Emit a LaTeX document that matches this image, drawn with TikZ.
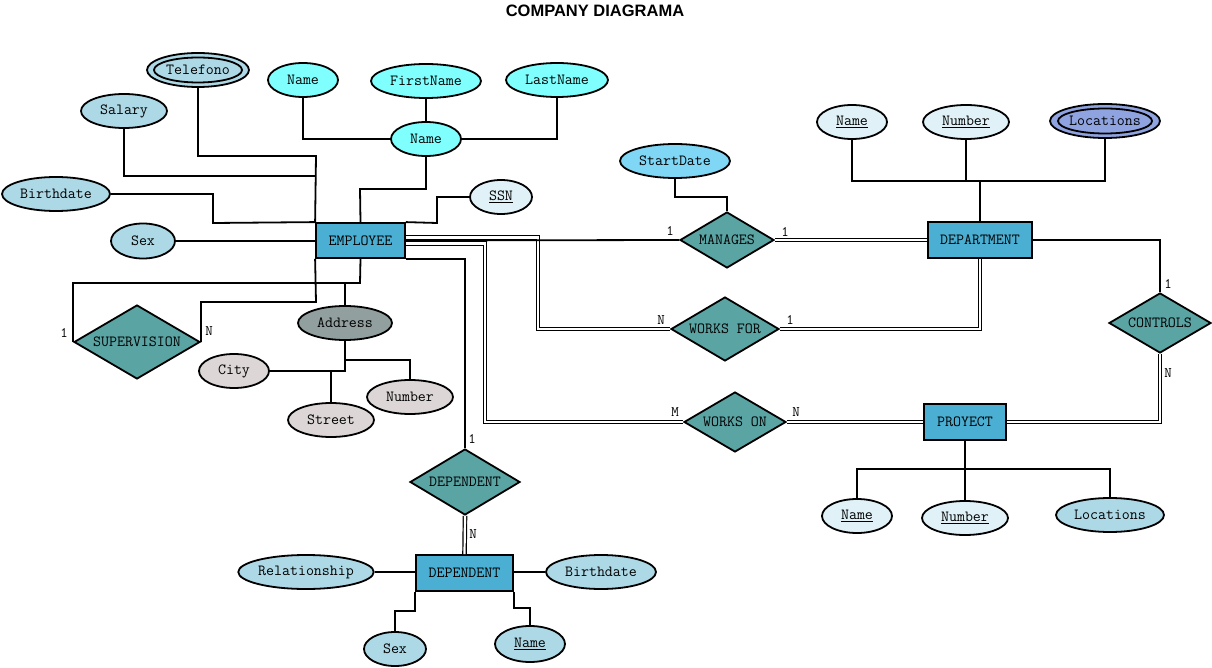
\documentclass[tikz,border=0pt]{standalone}
\usepackage{fontspec}
\setsansfont{Liberation Sans}
\usetikzlibrary{shapes.geometric}
\definecolor{attrc}{HTML}{ADD8E6}
\definecolor{cyanc}{HTML}{80FFFF}
\definecolor{keyc}{HTML}{E0F2F7}
\definecolor{entc}{HTML}{4BAFD3}
\definecolor{relc}{HTML}{5BA4A4}
\definecolor{addrc}{HTML}{919F9F}
\definecolor{subc}{HTML}{DCD6D6}
\definecolor{sdc}{HTML}{7FD6F5}
\definecolor{locc}{HTML}{8FA3E0}
\begin{document}
\begin{tikzpicture}[x=1pt,y=-1pt,line width=1.8pt,
  txt/.style={font=\ttfamily\fontsize{15.5}{17}\selectfont},
  ell/.style={ellipse,draw,inner sep=0pt,txt},
  ent/.style={rectangle,draw,fill=entc,inner sep=0pt,txt},
  rel/.style={diamond,draw,fill=relc,inner sep=0pt,aspect=1.7,txt},
  lbl/.style={font=\ttfamily\fontsize{14.5}{16}\selectfont,inner sep=0pt},
  dbl/.style={double,double distance=2.2pt,line width=1.2pt}]
\useasboundingbox (0,0) rectangle (1212,668);
\node[font=\sffamily\bfseries\fontsize{16.5}{18}\selectfont] (title) at (595,11) {COMPANY DIAGRAMA};

% EMPLOYEE attributes
\node[ell,fill=attrc,minimum width=102pt,minimum height=34pt] (tel) at (198,70) {Telefono};
\draw (tel.center) ellipse (44pt and 12.5pt);
\node[ell,fill=attrc,minimum width=86pt,minimum height=34pt] (sal) at (124,111) {Salary};
\node[ell,fill=attrc,minimum width=108pt,minimum height=34pt] (bd) at (56,194) {Birthdate};
\node[ell,fill=attrc,minimum width=64pt,minimum height=35pt] (sex) at (143,241) {Sex};
\node[ell,fill=cyanc,minimum width=70pt,minimum height=34pt] (nm1) at (303,80) {Name};
\node[ell,fill=cyanc,minimum width=110pt,minimum height=34pt] (fn) at (426,81) {FirstName};
\node[ell,fill=cyanc,minimum width=102pt,minimum height=34pt] (ln) at (557,80) {LastName};
\node[ell,fill=cyanc,minimum width=70pt,minimum height=34pt] (cn) at (426,139) {Name};
\node[ell,fill=keyc,minimum width=62pt,minimum height=34pt] (ssn) at (501,197) {\underline{SSN}};
\node[ent,minimum width=89pt,minimum height=35pt] (emp) at (360.5,240.5) {EMPLOYEE};
\node[ell,fill=addrc,minimum width=94pt,minimum height=34pt] (addr) at (345,323) {Address};
\node[ell,fill=subc,minimum width=70pt,minimum height=34pt] (city) at (234,371) {City};
\node[ell,fill=subc,minimum width=86pt,minimum height=34pt] (num1) at (410,397) {Number};
\node[ell,fill=subc,minimum width=86pt,minimum height=34pt] (street) at (331,420) {Street};
\node[rel,minimum width=126pt,minimum height=74pt] (sup) at (137,342) {SUPERVISION};

% relationships
\node[ell,fill=sdc,minimum width=110pt,minimum height=34pt] (sd) at (675,161) {StartDate};
\node[rel,minimum width=94pt,minimum height=56pt] (mg) at (727,240) {MANAGES};
\node[rel,minimum width=108pt,minimum height=64pt] (wf) at (725,329) {WORKS FOR};
\node[rel,minimum width=102pt,minimum height=60pt] (won) at (735,422) {WORKS ON};
\node[rel,minimum width=102pt,minimum height=60pt] (con) at (1160,323) {CONTROLS};

% DEPARTMENT
\node[ent,minimum width=104pt,minimum height=36pt] (dept) at (980,240) {DEPARTMENT};
\node[ell,fill=keyc,minimum width=70pt,minimum height=34pt] (dn) at (852,122) {\underline{Name}};
\node[ell,fill=keyc,minimum width=86pt,minimum height=34pt] (dnum) at (966,122) {\underline{Number}};
\node[ell,fill=locc,minimum width=110pt,minimum height=34pt] (loc) at (1105,121) {Locations};
\draw (loc.center) ellipse (47pt and 12.5pt);

% PROYECT
\node[ent,minimum width=82pt,minimum height=36pt] (proj) at (965,422) {PROYECT};
\node[ell,fill=keyc,minimum width=70pt,minimum height=34pt] (pn) at (857,516) {\underline{Name}};
\node[ell,fill=keyc,minimum width=86pt,minimum height=34pt] (pnum) at (965,518) {\underline{Number}};
\node[ell,fill=attrc,minimum width=108pt,minimum height=34pt] (ploc) at (1110,515) {Locations};

% DEPENDENT
\node[rel,minimum width=110pt,minimum height=66pt] (depr) at (465,482) {DEPENDENT};
\node[ent,minimum width=97pt,minimum height=36pt] (dep) at (464.5,573) {DEPENDENT};
\node[ell,fill=attrc,minimum width=132pt,minimum height=34pt] (rel) at (306,572) {Relationship};
\node[ell,fill=attrc,minimum width=110pt,minimum height=34pt] (bd2) at (601,572) {Birthdate};
\node[ell,fill=attrc,minimum width=62pt,minimum height=34pt] (sex2) at (395,649) {Sex};
\node[ell,fill=attrc,minimum width=70pt,minimum height=36pt] (nm4) at (530,644) {\underline{Name}};

% EMPLOYEE attribute connectors
\draw (tel.south) |- (316,156) -- (emp.north west);
\draw (sal.south) |- (316,176);
\draw (bd.east) -| (213,223) -- (emp.north west);
\draw (sex.east) -- (sex.east -| emp.west);
\draw (nm1.south) |- (cn.west);
\draw (ln.south) |- (cn.east);
\draw (fn.south) -- (cn.north);
\draw (cn.south) |- (360,189) -- (emp.north);
\draw (ssn.west) -| (437,223) -- (emp.north east);
\draw (emp.south) -- (360,283) -| (addr.north);
\draw (sup.west) |- (345,283);
\draw (sup.east) |- (316,302) -- (emp.south west);
\node[lbl] at (64,333) {1};
\node[lbl] at (209,331) {N};
\draw (addr.south) -- (345,360) -| (num1.north);
\draw (345,360) |- (city.east);
\draw (street.north) -- (street.north |- city.east);

% DEPENDENT connectors
\draw (emp.south east) -| (depr.north);
\node[lbl] at (472,439) {1};
\draw[dbl] (depr.south) -- (dep.north);
\node[lbl] at (473,534) {N};
\draw (rel.east) -- (rel.east -| dep.west);
\draw (bd2.west) -- (bd2.west -| dep.east);
\draw (dep.south west) |- (395,611) -- (sex2.north);
\draw (dep.south east) |- (530,608) -- (nm4.north);

% relationship connectors
\draw[dbl] ([yshift=-3pt]emp.east) -- (485,243.5) |- (won.west);
\draw[dbl] ([yshift=3pt]emp.east) -- (538,237.5) |- (wf.west);
\draw (emp.east) -- (mg.west);
\node[lbl] at (670,231) {1};
\draw[dbl] (mg.east) -- (dept.west);
\node[lbl] at (785,232) {1};
\draw (sd.south) |- (727,197) -- (mg.north);
\draw[dbl] (wf.east) -| (dept.south);
\node[lbl] at (661,320) {N};
\node[lbl] at (790,320) {1};
\draw[dbl] (won.east) -- (proj.west);
\node[lbl] at (675,412) {M};
\node[lbl] at (796,412) {N};
\draw (dept.east) -| (con.north);
\node[lbl] at (1168,284) {1};
\draw[dbl] (con.south) |- (proj.east);
\node[lbl] at (1168,373) {N};

% DEPARTMENT attributes
\draw (dn.south) -- (852,181) -- (1105,181) -- (loc.south);
\draw (dnum.south) -- (966,181);
\draw (dept.north) -- (980,181);

% PROYECT attributes
\draw (pn.north) -- (857,469) -- (1110,469) -- (ploc.north);
\draw (pnum.north) -- (965,469);
\draw (proj.south) -- (965,469);
\end{tikzpicture}
\end{document}
